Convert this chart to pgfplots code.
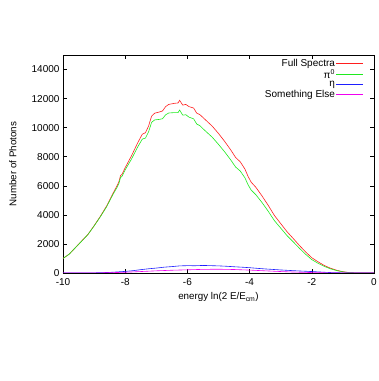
\documentclass[border=0pt]{standalone}
\usepackage{pgfplots}
\pgfplotsset{compat=1.18}
\usepackage{fontspec}
\setmainfont{Liberation Sans}
\definecolor{cred}{RGB}{255,30,30}
\definecolor{cgreen}{RGB}{30,235,30}
\definecolor{cblue}{RGB}{30,30,255}
\definecolor{cmag}{RGB}{240,0,240}
\begin{document}
\begin{tikzpicture}
\useasboundingbox (0,0) rectangle (379pt,381pt);
\begin{axis}[
  at={(63pt,108pt)}, anchor=south west,
  scale only axis, width=311pt, height=218pt,
  xmin=-10, xmax=0, ymin=0, ymax=15000,
  xtick={-10,-8,-6,-4,-2,0},
  xticklabels={-10,-8,-6,-4,-2,0},
  ytick={0,2000,4000,6000,8000,10000,12000,14000},
  yticklabels={0,2000,4000,6000,8000,10000,12000,14000},
  scaled y ticks=false,
  tick align=inside,
  major tick length=4pt,
  tick style={black, line width=0.5pt},
  axis line style={black, line width=0.6pt},
  ticklabel style={font=\fontsize{10}{12}\selectfont},
  xticklabel style={yshift=-2pt},
  yticklabel style={xshift=0pt},
  label style={font=\fontsize{9.8}{12}\selectfont},
  xlabel={energy ln(2 E/E\textsubscript{cm})},
  ylabel={Number of Photons},
  xlabel style={at={(axis description cs:0.5,-0.112)}, anchor=center},
  ylabel style={at={(axis description cs:-0.1615,0.5)}, anchor=center},
  legend plot pos=right,
  legend cell align=right,
  legend style={draw=none, fill=none, at={(1,1)}, anchor=north east,
    xshift=-10pt, yshift=-3pt, inner sep=0pt, row sep=-0.3pt,
    nodes={inner sep=1pt},
    font=\fontsize{10}{10}\selectfont},
  legend image code/.code={\draw[#1, line width=0.8pt] (0pt,0pt) -- (27pt,0pt);},
  every axis plot/.append style={line width=0.6pt},
]
\addplot[cred] coordinates {
(-10.0,1000) (-9.8,1300) (-9.6,1750) (-9.4,2200) (-9.2,2650) (-9.0,3250)
(-8.8,3900) (-8.6,4600) (-8.4,5450) (-8.25,6050) (-8.2,6300) (-8.15,6700)
(-8.1,6800) (-8.0,7250) (-7.8,8050) (-7.6,8950) (-7.45,9550) (-7.35,9650)
(-7.25,10100) (-7.15,10800) (-7.05,11000) (-6.9,11080) (-6.8,11150) (-6.7,11450)
(-6.6,11600) (-6.4,11680) (-6.3,11700) (-6.25,11880) (-6.15,11550) (-6.05,11600)
(-5.95,11450) (-5.8,11350) (-5.7,11000) (-5.6,10900) (-5.5,10700) (-5.4,10500)
(-5.2,10100) (-5.0,9600) (-4.8,9050) (-4.6,8450) (-4.45,7950) (-4.3,7650)
(-4.15,7150) (-4.05,6650) (-3.95,6250) (-3.8,5900) (-3.6,5300) (-3.4,4650)
(-3.2,3950) (-3.0,3400) (-2.8,2850) (-2.6,2380) (-2.4,1900) (-2.2,1450)
(-2.0,1050) (-1.8,770) (-1.6,520) (-1.4,330) (-1.2,190) (-1.0,90)
(-0.8,30) (-0.6,8) (-0.4,0) (0.0,0)
};
\addlegendentry{Full Spectra}
\addplot[cgreen] coordinates {
(-10.0,1000) (-9.8,1295) (-9.6,1745) (-9.4,2190) (-9.2,2640) (-9.0,3235)
(-8.8,3865) (-8.6,4550) (-8.4,5375) (-8.25,5940) (-8.2,6180) (-8.15,6570)
(-8.1,6660) (-8.0,7100) (-7.8,7830) (-7.6,8665) (-7.45,9215) (-7.35,9280)
(-7.25,9700) (-7.15,10370) (-7.05,10535) (-6.9,10570) (-6.8,10615) (-6.7,10885)
(-6.6,11010) (-6.4,11040) (-6.3,11040) (-6.25,11210) (-6.15,10860) (-6.05,10890)
(-5.95,10725) (-5.8,10610) (-5.7,10250) (-5.6,10140) (-5.5,9930) (-5.4,9730)
(-5.2,9340) (-5.0,8850) (-4.8,8330) (-4.6,7760) (-4.45,7290) (-4.3,7015)
(-4.15,6550) (-4.05,6075) (-3.95,5705) (-3.8,5390) (-3.6,4845) (-3.4,4245)
(-3.2,3595) (-3.0,3090) (-2.8,2580) (-2.6,2150) (-2.4,1705) (-2.2,1290)
(-2.0,920) (-1.8,670) (-1.6,455) (-1.4,290) (-1.2,165) (-1.0,80)
(-0.8,25) (-0.6,8) (-0.4,0) (0.0,0)
};
\addlegendentry{π\textsuperscript{0}}
\addplot[cblue] coordinates {
(-10.0,0) (-9.5,3) (-9.0,10) (-8.5,40) (-8.0,110) (-7.75,160) (-7.5,230)
(-7.25,290) (-7.0,340) (-6.75,400) (-6.5,440) (-6.25,490) (-6.0,505)
(-5.75,500) (-5.5,520) (-5.25,505) (-5.0,490) (-4.75,465) (-4.5,430)
(-4.25,400) (-4.0,365) (-3.75,320) (-3.5,280) (-3.25,245) (-3.0,210)
(-2.75,180) (-2.5,150) (-2.25,125) (-2.0,100) (-1.75,70) (-1.5,40)
(-1.25,20) (-1.0,10) (-0.75,3) (-0.5,0) (0.0,0)
};
\addlegendentry{η}
\addplot[cmag] coordinates {
(-10.0,0) (-9.5,2) (-9.0,5) (-8.5,20) (-8.0,50) (-7.5,100) (-7.0,150)
(-6.5,190) (-6.0,220) (-5.5,250) (-5.0,260) (-4.5,240) (-4.0,200)
(-3.5,150) (-3.0,100) (-2.5,60) (-2.0,30) (-1.5,10) (-1.0,0) (0.0,0)
};
\addlegendentry{Something Else}
\end{axis}
\end{tikzpicture}
\end{document}
